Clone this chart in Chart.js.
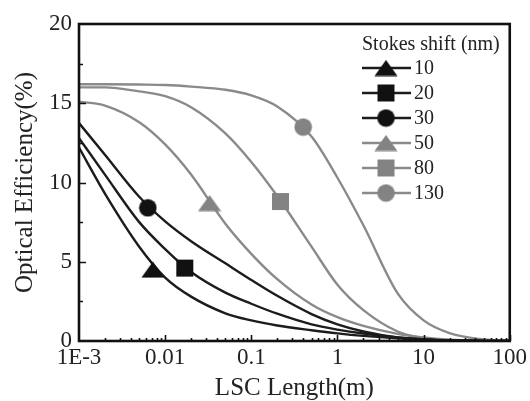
<!DOCTYPE html>
<html>
<head>
<meta charset="utf-8">
<script src="https://cdn.jsdelivr.net/npm/chart.js@4.4.0/dist/chart.umd.min.js"></script>
<style>
  html, body { margin: 0; padding: 0; background: #fff; }
  canvas { display: block; }
</style>
</head>
<body>
<canvas id="chart" width="530" height="401"></canvas>
<script>
// LSC optical efficiency vs length, one curve per Stokes shift

const lengths = [0.001, 0.002, 0.005, 0.01, 0.02, 0.05, 0.1, 0.2, 0.5, 1, 2, 5, 10, 20, 50, 100];

const eff10 = [12.2, 9.3, 5.95, 4.0, 2.8, 1.75, 1.3, 0.98, 0.68, 0.48, 0.32, 0.17, 0.08, 0.03, 0.01, 0];
const eff20 = [12.8, 10.5, 7.5, 5.8, 4.35, 3.05, 2.35, 1.72, 1.05, 0.72, 0.47, 0.22, 0.12, 0.05, 0.01, 0];
const eff30 = [13.75, 11.75, 9.1, 7.55, 6.3, 4.9, 3.85, 2.85, 1.7, 1.05, 0.6, 0.22, 0.09, 0.03, 0.01, 0];
const eff50 = [15.1, 14.85, 13.8, 12.4, 10.5, 7.4, 5.5, 3.9, 2.3, 1.5, 0.95, 0.45, 0.22, 0.09, 0.02, 0];
const eff80 = [16.0, 16.0, 15.75, 15.45, 14.75, 13.1, 11.3, 9.15, 5.95, 3.55, 1.95, 0.6, 0.18, 0.05, 0.01, 0];
const eff130 = [16.2, 16.2, 16.18, 16.15, 16.05, 15.85, 15.5, 14.8, 12.9, 10.3, 7.3, 3.0, 1.3, 0.5, 0.1, 0.01];

const stokesShifts = ['10', '20', '30', '50', '80', '130'];
const markerLengths = [0.0072, 0.0169, 0.0063, 0.0328, 0.218, 0.40];
const markerValues = [4.5, 4.6, 8.4, 8.7, 8.8, 13.5];

const xTickValues = [0.001, 0.01, 0.1, 1, 10, 100];
const xTickLabels = ['1E-3', '0.01', '0.1', '1', '10', '100'];

const SERIES = [eff10, eff20, eff30, eff50, eff80, eff130];
const BLACK = '#1c1c1c';
const GRAY = '#8a8a8a';
const SERIF = "'Liberation Serif', 'DejaVu Serif', serif";

const makeMarker = (shape, color) => {
  const c = document.createElement('canvas');
  const w = shape === 'triangle' ? 24 : 19;
  const h = shape === 'triangle' ? 17 : 19;
  c.width = w;
  c.height = h;
  const g = c.getContext('2d');
  g.fillStyle = color;
  g.beginPath();
  if (shape === 'triangle') {
    g.moveTo(w / 2, 0.5);
    g.lineTo(w - 0.5, h - 0.5);
    g.lineTo(0.5, h - 0.5);
    g.closePath();
  } else if (shape === 'square') {
    g.rect(1, 1, 17, 17);
  } else {
    g.arc(w / 2, h / 2, 8.8, 0, Math.PI * 2);
  }
  g.fill();
  return c;
};

const shapes = ['triangle', 'square', 'circle', 'triangle', 'square', 'circle'];
const colors = [BLACK, BLACK, BLACK, GRAY, GRAY, GRAY];
const markers = shapes.map((s, i) => makeMarker(s, i < 3 ? '#111' : '#838383'));

const datasets = [];
SERIES.forEach((values, i) => {
  datasets.push({
    label: stokesShifts[i],
    data: lengths.map((x, k) => ({ x, y: values[k] })),
    showLine: true,
    borderColor: colors[i],
    borderWidth: 2.4,
    pointRadius: 0,
    cubicInterpolationMode: 'monotone',
    fill: false,
    order: 2,
  });
});
SERIES.forEach((_, i) => {
  datasets.push({
    label: stokesShifts[i] + ' marker',
    data: [{ x: markerLengths[i], y: markerValues[i] }],
    showLine: false,
    pointStyle: markers[i],
    pointRadius: 9,
    order: 1,
  });
});

// frame, inward ticks and the in-plot legend
const decorPlugin = {
  id: 'decor',
  afterDatasetsDraw(chart) {
    const { ctx, chartArea: a, scales } = chart;
    const xs = scales.x;
    const ys = scales.y;
    ctx.save();
    ctx.strokeStyle = '#111';

    ctx.lineWidth = 1.6;
    ctx.beginPath();
    [2.5, 5, 7.5, 10, 12.5, 15, 17.5].forEach((v) => {
      const y = Math.round(ys.getPixelForValue(v)) + 0.5;
      const len = v % 5 === 0 ? 7 : 4;
      ctx.moveTo(a.left, y);
      ctx.lineTo(a.left + len, y);
    });
    for (let d = 0.001; d < 99; d *= 10) {
      for (let k = 1; k <= 9; k++) {
        const v = d * k;
        if (v <= 0.001) continue;
        const x = Math.round(xs.getPixelForValue(v)) + 0.5;
        const len = k === 1 ? 6 : 3;
        ctx.moveTo(x, a.bottom);
        ctx.lineTo(x, a.bottom - len);
      }
    }
    [10, 100].forEach((v) => {
      const x = Math.round(xs.getPixelForValue(v)) + 0.5;
      ctx.moveTo(x, a.bottom);
      ctx.lineTo(x, a.bottom - 6);
    });
    ctx.stroke();

    ctx.lineWidth = 2.6;
    ctx.strokeRect(a.left, a.top, a.right - a.left, a.bottom - a.top);

    // legend
    ctx.fillStyle = '#222';
    ctx.textBaseline = 'middle';
    ctx.textAlign = 'left';
    ctx.font = '20px ' + SERIF;
    ctx.fillText('Stokes shift (nm)', 362, 45);
    ctx.font = '20px ' + SERIF;
    stokesShifts.forEach((label, i) => {
      const y = 68 + i * 25;
      ctx.strokeStyle = colors[i];
      ctx.lineWidth = 2.6;
      ctx.beginPath();
      ctx.moveTo(362, y);
      ctx.lineTo(411, y);
      ctx.stroke();
      const m = markers[i];
      ctx.drawImage(m, 386 - m.width / 2, y - m.height / 2);
      ctx.fillText(label, 414, y + 1);
    });
    ctx.restore();
  },
};

new Chart(document.getElementById('chart'), {
  type: 'scatter',
  data: { datasets },
  options: {
    responsive: false,
    animation: false,
    devicePixelRatio: 1,
    layout: { padding: { left: 0, right: 19, top: 24, bottom: 0 } },
    plugins: {
      legend: { display: false },
      tooltip: { enabled: false },
    },
    scales: {
      x: {
        type: 'logarithmic',
        min: 0.001,
        max: 100,
        grid: { display: false, drawTicks: false },
        border: { display: false },
        afterBuildTicks: (scale) => {
          scale.ticks = xTickValues.map((value) => ({ value }));
        },
        afterFit: (scale) => {
          scale.height = 60;
        },
        ticks: {
          autoSkip: false,
          maxRotation: 0,
          padding: 3,
          color: '#222',
          font: { family: SERIF, size: 23 },
          callback: (value, index) => xTickLabels[index],
        },
        title: {
          display: true,
          text: 'LSC Length(m)',
          color: '#222',
          padding: { top: 0, bottom: 0.5 },
          font: { family: SERIF, size: 25, lineHeight: 1 },
        },
      },
      y: {
        min: 0,
        max: 20,
        grid: { display: false, drawTicks: false },
        border: { display: false },
        afterFit: (scale) => {
          scale.width = 79;
        },
        ticks: {
          stepSize: 5,
          padding: 7,
          color: '#222',
          font: { family: SERIF, size: 23 },
        },
        title: {
          display: true,
          text: 'Optical Efficiency(%)',
          color: '#222',
          padding: { top: 12.5, bottom: 0 },
          font: { family: SERIF, size: 25, lineHeight: 1 },
        },
      },
    },
  },
  plugins: [decorPlugin],
});
</script>
</body>
</html>
